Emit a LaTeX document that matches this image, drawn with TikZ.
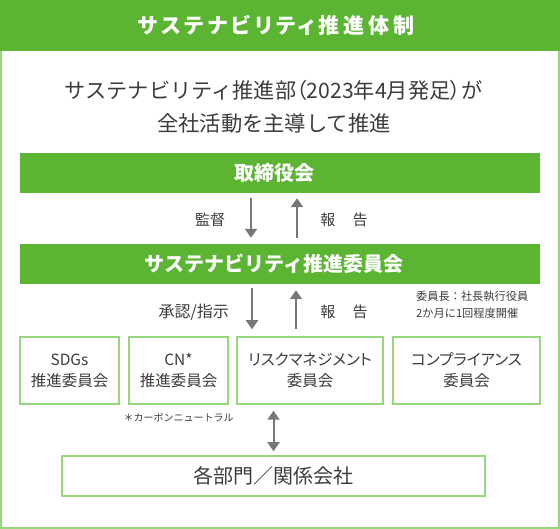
\documentclass[tikz,border=0pt]{standalone}
\usepackage{fontspec}
\setmainfont{Noto Sans CJK JP}
\newfontfamily\paltfont{Noto Sans CJK JP}[RawFeature=+palt]
\newfontfamily\titlefont{Noto Sans CJK JP}[RawFeature=+palt, LetterSpace=18]
\usetikzlibrary{arrows.meta,calc}
\definecolor{barGreen}{HTML}{5BB532}
\definecolor{lineGreen}{HTML}{96D67F}
\definecolor{txtGray}{HTML}{3C3C3C}
\definecolor{arrGray}{HTML}{777777}
\tikzset{
  bar/.style={fill=barGreen, draw=none, minimum width=520pt, minimum height=40pt, inner sep=0pt},
  bartext/.style={text=white, inner sep=0pt, font=\bfseries\fontsize{20}{24}\selectfont},
  cbox/.style={draw=lineGreen, line width=1.5pt, fill=white, text=txtGray, align=center, inner sep=0pt, minimum height=67pt, font=\paltfont\fontsize{15.5}{21}\selectfont},
  lbl/.style={text=txtGray, inner sep=0pt, font=\fontsize{15}{18}\selectfont},
  arr/.style={draw=arrGray, line width=2pt, -{Triangle[width=12pt,length=9pt]}},
  arrb/.style={draw=arrGray, line width=2pt, {Triangle[width=12pt,length=9pt]}-{Triangle[width=12pt,length=9pt]}},
}
\begin{document}
\begin{tikzpicture}[x=1pt,y=-1pt]
\useasboundingbox (0,0) rectangle (560,529);
% frame and title bar
\draw[lineGreen, line width=2pt] (1,1) rectangle (559,528);
\fill[barGreen] (0,0) rectangle (560,51);
\node[text=white, font=\titlefont\bfseries\fontsize{21}{26}\selectfont, inner sep=0pt] (title) at (276,25) {サステナビリティ推進体制};
% intro text
\node[text=txtGray, font=\fontsize{21.2}{24}\selectfont, inner sep=0pt] (l1) at (273.5,90) {サステナビリティ推進部{\paltfont （}2023年4月発足{\paltfont ）}が};
\node[text=txtGray, font=\fontsize{21.3}{24}\selectfont, inner sep=0pt] (l2) at (274,123) {全社活動を主導して推進};
% bars
\node[bar] (board) at (280,173) {};
\node[bartext] (boardtext) at ($(board.center)+(-6,0)$) {取締役会};
\node[bar] (scom) at (280,264) {};
\node[bartext] (scomtext) at ($(scom.center)+(-6,0)$) {サステナビリティ推進委員会};
% arrows between bars
\draw[arr] ($(board.south)+(-29,5)$) -- ($(scom.north)+(-29,-6)$);
\draw[arr] ($(scom.north)+(17,-6)$) -- ($(board.south)+(17,5)$);
\node[lbl] (kantoku) at (210,220) {監督};
\node[lbl] (hokoku1) at (344,220) {報\hspace{1.15em}告};
% committees
\node[cbox, minimum width=99pt] (sdgs) at (69.5,370.5) {SDGs\\推進委員会};
\node[cbox, minimum width=99pt] (cn) at (178.5,370.5) {CN*\\推進委員会};
\node[cbox, minimum width=146pt] (risk) at (310,370.5) {リスクマネジメント\\委員会};
\node[cbox, minimum width=147pt] (comp) at (466.5,370.5) {コンプライアンス\\委員会};
% arrows between committee bar and committees
\draw[arr] ($(scom.south)+(-28,4)$) -- ($(risk.north)+(-58,-7)$);
\draw[arr] ($(risk.north -| scom.south)+(16,-7)$) -- ($(scom.south)+(16,6)$);
\node[lbl, anchor=east, font=\fontsize{16}{18}\selectfont] (shoninshiji) at (229,312) {承認/指示};
\node[lbl] (hokoku2) at (344,312) {報\hspace{1.15em}告};
\node[text=txtGray, anchor=west, align=left, inner sep=0pt, font=\fontsize{11.2}{17}\selectfont] (note) at (416,304.5) {委員長：社長執行役員\\2か月に1回程度開催};
\node[text=txtGray, inner sep=0pt, font=\fontsize{10}{12}\selectfont] (cnnote) at (178.5,418) {＊カーボンニュートラル};
% bottom box
\node[draw=lineGreen, line width=1.5pt, fill=white, text=txtGray, inner sep=0pt, minimum width=423pt, minimum height=40pt, font=\fontsize{20}{24}\selectfont] (dept) at (273.5,476) {各部門／関係会社};
\draw[arrb] ($(risk.south -| dept.north)+(0,6)$) -- ($(dept.north)+(0,-4)$);
\end{tikzpicture}
\end{document}
